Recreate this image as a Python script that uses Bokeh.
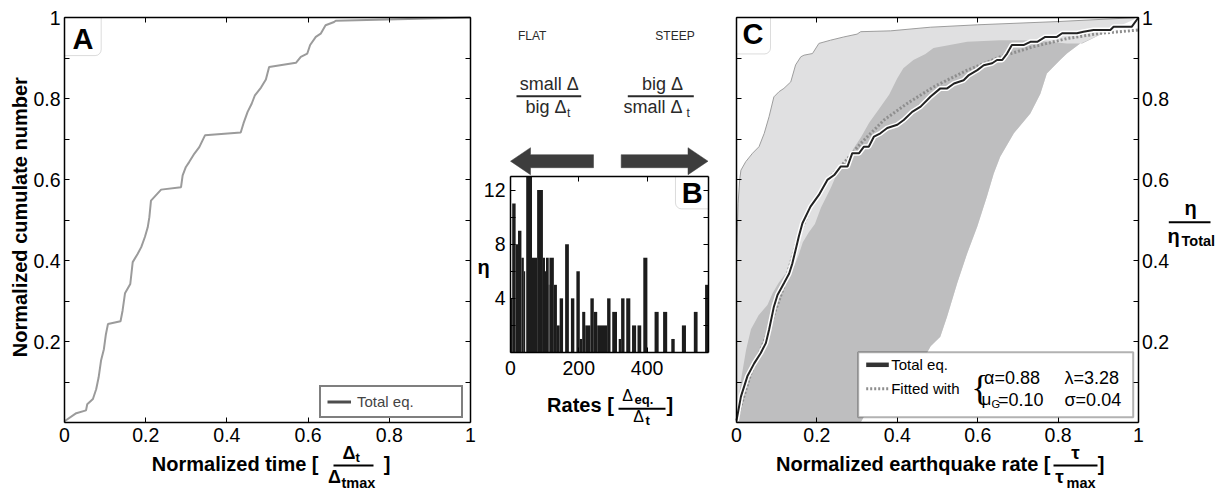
import numpy as np
from bokeh.plotting import figure
from bokeh.models import (Range1d, LinearAxis, FixedTicker, Label, Arrow,
                          BoxAnnotation, Legend, LegendItem, ColumnDataSource)
from bokeh.embed import file_html
from bokeh.resources import INLINE

FONT = "Liberation Sans"
TICK_SIZE = "19.5px"

# ---------------- Panel A data: normalized cumulative number vs normalized time
time_norm = [0.0, 0.029, 0.053, 0.056, 0.070, 0.078, 0.084, 0.090, 0.097, 0.102,
             0.107, 0.138, 0.143, 0.149, 0.162, 0.168, 0.180, 0.189, 0.198, 0.205,
             0.209, 0.213, 0.238, 0.287, 0.291, 0.299, 0.307, 0.320, 0.332, 0.346,
             0.434, 0.441, 0.451, 0.461, 0.469, 0.484, 0.496, 0.504, 0.570, 0.582,
             0.598, 0.605, 0.619, 0.631, 0.643, 0.664, 0.668, 1.0]
cum_norm = [0.003, 0.023, 0.030, 0.045, 0.058, 0.082, 0.111, 0.153, 0.181, 0.218,
            0.243, 0.250, 0.276, 0.319, 0.342, 0.396, 0.416, 0.433, 0.458, 0.482,
            0.507, 0.548, 0.575, 0.581, 0.610, 0.631, 0.643, 0.664, 0.680, 0.709,
            0.716, 0.739, 0.767, 0.787, 0.808, 0.827, 0.847, 0.878, 0.888, 0.903,
            0.911, 0.932, 0.952, 0.960, 0.981, 0.989, 0.992, 1.0]

# ---------------- Panel B data: histogram of rates
rate_edges = [0, 5, 15, 22, 32, 39, 43, 46, 63, 78, 95, 101, 104, 112, 114, 127, 136,
              144, 154, 160, 171, 177, 187, 193, 203, 210, 219, 234, 244, 254, 283,
              293, 298, 312, 317, 324, 334, 339, 351, 356, 368, 372, 383, 389, 401,
              422, 434, 447, 459, 471, 481, 502, 514, 537, 548, 570, 580]
rate_counts = [4, 11, 8, 9, 7, 6, 0, 13, 7, 12, 7, 6, 7, 5, 7, 5, 2, 4, 0, 8,
               0, 4, 0, 6, 1, 3, 2, 4, 3, 2, 4, 0, 3, 0, 1, 4, 0, 4, 0, 2,
               0, 2, 0, 7, 0, 3, 0, 3, 0, 1, 0, 2, 0, 3, 0, 5]

# ---------------- Panel C data
total_rate = [0.0, 0.011, 0.027, 0.044, 0.060, 0.073, 0.081, 0.093, 0.102, 0.118,
              0.131, 0.139, 0.147, 0.155, 0.164, 0.184, 0.205, 0.226, 0.243, 0.259,
              0.276, 0.288, 0.305, 0.317, 0.329, 0.342, 0.358, 0.375, 0.400, 0.416,
              0.437, 0.458, 0.483, 0.507, 0.524, 0.541, 0.565, 0.578, 0.599, 0.615,
              0.636, 0.648, 0.661, 0.673, 0.685, 0.714, 0.731, 0.748, 0.768, 0.797,
              0.810, 0.847, 0.863, 0.888, 0.930, 0.938, 0.983, 1.0]
total_eta = [0.005, 0.064, 0.114, 0.146, 0.171, 0.196, 0.229, 0.286, 0.315, 0.344,
             0.368, 0.393, 0.426, 0.459, 0.492, 0.533, 0.562, 0.599, 0.611, 0.632,
             0.632, 0.665, 0.665, 0.681, 0.681, 0.706, 0.714, 0.727, 0.735, 0.747,
             0.767, 0.780, 0.805, 0.825, 0.825, 0.837, 0.845, 0.858, 0.870, 0.882,
             0.887, 0.895, 0.895, 0.911, 0.932, 0.932, 0.940, 0.940, 0.952, 0.952,
             0.961, 0.961, 0.965, 0.969, 0.969, 0.977, 0.977, 1.0]
fit_rate = [0.0, 0.036, 0.077, 0.118, 0.151, 0.185, 0.226, 0.259, 0.309, 0.367,
            0.425, 0.491, 0.574, 0.656, 0.739, 0.822, 0.905, 1.0]
fit_eta = [0.005, 0.122, 0.220, 0.336, 0.451, 0.533, 0.599, 0.632, 0.689, 0.747,
           0.788, 0.829, 0.870, 0.903, 0.928, 0.948, 0.961, 0.969]
env_upper_x = [0.0, 0.004, 0.008, 0.011, 0.023, 0.040, 0.056, 0.069, 0.081, 0.093,
               0.106, 0.118, 0.135, 0.147, 0.160, 0.168, 0.189, 0.205, 0.234, 0.267,
               0.300, 0.309, 0.383, 0.449, 0.482, 0.600, 0.800, 1.0]
env_upper_y = [0.40, 0.54, 0.60, 0.623, 0.644, 0.665, 0.681, 0.714, 0.755, 0.804,
               0.817, 0.825, 0.841, 0.883, 0.903, 0.907, 0.911, 0.936, 0.944, 0.952,
               0.959, 0.965, 0.967, 0.973, 0.976, 0.982, 0.990, 1.0]
band_top_x = [0.0, 0.003, 0.012, 0.024, 0.036, 0.055, 0.077, 0.090, 0.105, 0.120,
              0.143, 0.155, 0.165, 0.180, 0.195, 0.210, 0.235, 0.250, 0.270, 0.290,
              0.310, 0.330, 0.355, 0.380, 0.400, 0.415, 0.440, 0.470, 0.490, 0.574,
              0.656, 0.739, 0.822, 0.860, 0.920, 1.0]
band_top_y = [0.0, 0.04, 0.11, 0.18, 0.23, 0.265, 0.29, 0.32, 0.345, 0.365,
              0.385, 0.415, 0.445, 0.47, 0.49, 0.53, 0.58, 0.615, 0.64, 0.675,
              0.705, 0.74, 0.775, 0.81, 0.85, 0.875, 0.895, 0.91, 0.925, 0.94,
              0.944, 0.944, 0.936, 0.936, 0.965, 1.0]
band_right_x = [0.309, 0.317, 0.360, 0.408, 0.450, 0.483, 0.507, 0.524, 0.549, 0.574,
                0.599, 0.623, 0.640, 0.656, 0.690, 0.731, 0.756, 0.772, 0.805, 0.822,
                0.855, 0.930, 1.0]
band_right_y = [0.0, 0.015, 0.040, 0.072, 0.130, 0.188, 0.212, 0.262, 0.344, 0.418,
                0.484, 0.558, 0.615, 0.656, 0.714, 0.763, 0.812, 0.862, 0.895, 0.911,
                0.936, 0.970, 1.0]

# ---------------- ticks
unit_ticks = [0, 0.2, 0.4, 0.6, 0.8, 1]
unit_minor = [0.1, 0.3, 0.5, 0.7, 0.9]
unit_y_ticks = [0.2, 0.4, 0.6, 0.8, 1]
unit_labels = {0: "0", 0.2: "0.2", 0.4: "0.4", 0.6: "0.6", 0.8: "0.8", 1: "1"}
hist_x_ticks = [0, 200, 400]
hist_y_ticks = [4, 8, 12]
hist_y_minor = [2, 6, 10]

# ---------------- one canvas; default ranges are page pixels, panels use extra ranges
W, H = 1226, 492


def range_x(px0, px1, v0, v1):
    s = (px1 - px0) / (v1 - v0)
    return Range1d(v0 - px0 / s, v0 + (W - px0) / s)


def range_y(py0, py1, v0, v1):
    s = (py0 - py1) / (v1 - v0)
    return Range1d(v0 - (H - py0) / s, v1 + py1 / s)


p = figure(width=W, height=H, frame_width=W, frame_height=H,
           x_range=Range1d(0, W), y_range=Range1d(H, 0),
           x_axis_location=None, y_axis_location=None,
           min_border=0, min_border_left=0, min_border_right=0,
           min_border_top=0, min_border_bottom=0,
           toolbar_location=None, output_backend="svg",
           background_fill_color="white", border_fill_color="white",
           outline_line_color=None)
p.grid.visible = False
p.extra_x_ranges = {"A": range_x(64, 470, 0, 1), "B": range_x(510, 708, 0, 580),
                    "C": range_x(736, 1138, 0, 1)}
p.extra_y_ranges = {"AC": range_y(422, 17, 0, 1), "B": range_y(352, 176, 0, 13)}


def make_axis(xr, yr, ticks, minor, loc, bounds):
    ax = LinearAxis(x_range_name=xr, y_range_name=yr, fixed_location=loc, bounds=bounds)
    ax.ticker = FixedTicker(ticks=ticks, minor_ticks=minor or [])
    ax.axis_line_color = "black"
    ax.axis_line_width = 1.5
    ax.major_tick_in = 5
    ax.major_tick_out = 0
    ax.minor_tick_in = 5
    ax.minor_tick_out = 0
    ax.major_tick_line_color = "black"
    ax.minor_tick_line_color = "black"
    ax.major_label_overrides = {t: "" for t in ticks}
    ax.major_label_text_font_size = "0px"
    ax.major_label_standoff = 0
    ax.axis_label = None
    return ax


def panel_frame(xr, yr, xt, yt, xminor, yminor, xb, yb):
    p.add_layout(make_axis(xr, yr, xt, xminor, yb[0], xb), "below")
    p.add_layout(make_axis(xr, yr, xt, xminor, yb[1], xb), "above")
    p.add_layout(make_axis(xr, yr, yt, yminor, xb[0], yb), "left")
    p.add_layout(make_axis(xr, yr, yt, yminor, xb[1], yb), "right")


def lab(text, x, y, size, bold=False, align="center", baseline="middle",
        color="black", angle=0.0, xr="default", yr="default", xo=0, yo=0,
        font=FONT):
    p.add_layout(Label(x=x, y=y, x_range_name=xr, y_range_name=yr, text=text,
                       text_font=font, text_font_size=f"{size}px",
                       text_font_style="bold" if bold else "normal",
                       text_align=align, text_baseline=baseline,
                       text_color=color, angle=angle, x_offset=xo, y_offset=yo))


def tick_labels(xr, yr, xticks, yticks, y_at, x_at, y_side="left", xyo=-5, yxo=-4):
    for t in xticks:
        lab(unit_labels.get(t, str(t)) if xr != "B" else str(t), t, y_at, 19.5,
            baseline="top", xr=xr, yr=yr, yo=xyo)
    for t in yticks:
        lab(unit_labels.get(t, str(t)) if yr != "B" else str(t), x_at, t, 19.5,
            align="right" if y_side == "left" else "left", xr=xr, yr=yr, xo=yxo)


def seg(x0, x1, y, w=2.0, color="black", dash="solid"):
    p.add_layout(Arrow(x_start=x0, y_start=y, x_end=x1, y_end=y, start=None, end=None,
                       line_width=w, line_color=color, line_dash=dash))


def letter_box(xr, yr, left, right, bottom, top, corner):
    radius = dict(top_left=0, top_right=0, bottom_right=0, bottom_left=0)
    radius[corner] = 6
    p.add_layout(BoxAnnotation(left=left, right=right, bottom=bottom, top=top,
                               x_range_name=xr, y_range_name=yr,
                               fill_color="white", fill_alpha=1, line_color="#8a8a8a",
                               line_width=1, level="underlay", border_radius=radius))


# =============== Panel A ===============
panel_frame("A", "AC", unit_ticks, unit_y_ticks, None, unit_minor, (0, 1), (0, 1))
tick_labels("A", "AC", unit_ticks, unit_y_ticks, 0, 0, "left", -5, -4)
letter_box("A", "AC", 0, 0.0904, 0.906, 1.0, "bottom_right")
lab("A", 82.5, 38.5, 29, bold=True)

p.line(time_norm, cum_norm, x_range_name="A", y_range_name="AC",
       line_color="#9b9b9b", line_width=2)
dummyA = p.line([np.nan], [np.nan], x_range_name="A", y_range_name="AC",
                line_color="#4d4d4d", line_width=3)
legA = Legend(items=[LegendItem(label="Total eq.", renderers=[dummyA])],
              location=(319, H - 418), padding=6, glyph_width=24,
              glyph_height=17, label_height=17, label_width=98, label_standoff=6,
              label_text_font=FONT, label_text_font_size="15px",
              border_line_color="black", border_line_width=2,
              background_fill_color="white", background_fill_alpha=1)
p.add_layout(legA)

lab("Normalized cumulate number", 19.3, 216.7, 20, bold=True, angle=np.pi / 2)
lab("Normalized time [", 318, 463.3, 20, bold=True, align="right")
lab("Δ", 348.5, 452, 18, bold=True)
lab("t", 355, 457, 13, bold=True, align="left")
seg(333, 373, 465)
lab("Δ", 334, 476, 18, bold=True)
lab("tmax", 341, 482, 14.5, bold=True, align="left")
lab("]", 386.7, 463.3, 20, bold=True)

# =============== Panel B ===============
panel_frame("B", "B", hist_x_ticks, hist_y_ticks, None, hist_y_minor, (0, 580), (0, 13))
tick_labels("B", "B", hist_x_ticks, hist_y_ticks, 0, 0, "left", -8, -5)
letter_box("B", "B", 483.3, 580, 10.61, 13, "bottom_left")
lab("B", 691.7, 192.5, 29, bold=True)

hist_src = ColumnDataSource(dict(left=rate_edges[:-1], right=rate_edges[1:],
                                 top=rate_counts, bottom=[0] * len(rate_counts)))
p.quad(left="left", right="right", top="top", bottom="bottom", source=hist_src,
       x_range_name="B", y_range_name="B", fill_color="#1c1c1c", line_color=None)

ARROW_C = "#3d3d3d"
left_arrow_x = [510, 530, 530, 593, 593, 530, 530]
left_arrow_y = [160.7, 147.2, 154.2, 154.2, 167.2, 167.2, 174.2]
right_arrow_x = [707.5, 687.5, 687.5, 620.7, 620.7, 687.5, 687.5]
right_arrow_y = [160.7, 147.2, 154.2, 154.2, 167.2, 167.2, 174.2]
p.patch(left_arrow_x, left_arrow_y, fill_color=ARROW_C, line_color=ARROW_C, line_width=0.5)
p.patch(right_arrow_x, right_arrow_y, fill_color=ARROW_C, line_color=ARROW_C, line_width=0.5)

TXT = "#2a2a2a"
lab("FLAT", 531.7, 35, 12, color=TXT)
lab("STEEP", 674.5, 35, 12, color=TXT)
lab("small Δ", 548.7, 83.3, 18, color=TXT)
seg(516, 580.7, 95.7, color=TXT)
lab("big Δ", 566, 106.7, 18, align="right", color=TXT)
lab("t", 566.5, 112, 12, align="left", color=TXT)
lab("big Δ", 662, 83.3, 18, color=TXT)
seg(627.3, 693.3, 95.7, color=TXT)
lab("small  Δ", 687, 106.7, 18, align="right", color=TXT)
lab("t", 686, 112, 12, align="left", color=TXT)

lab("η", 483, 266, 20, bold=True)
lab("Rates [", 613.3, 404, 20, bold=True, align="right")
lab("Δ", 627, 395, 16)
lab("eq.", 634, 399, 13, bold=True, align="left")
seg(618, 665, 408.3)
lab("Δ", 638, 415.5, 16)
lab("t", 645, 420, 13, bold=True, align="left")
lab("]", 669.3, 404, 20, bold=True)

# =============== Panel C ===============
light_x = env_upper_x + band_right_x[::-1] + [0.0]
light_y = env_upper_y + band_right_y[::-1] + [0.0]
dark_x = band_top_x + band_right_x[::-1]
dark_y = band_top_y + band_right_y[::-1]
p.patch(light_x, light_y, x_range_name="C", y_range_name="AC",
        fill_color="#e0e0e1", line_color=None)
p.patch(dark_x, dark_y, x_range_name="C", y_range_name="AC",
        fill_color="#bebebf", line_color=None)
p.line(env_upper_x, env_upper_y, x_range_name="C", y_range_name="AC",
       line_color="#9d9d9d", line_width=1)
p.line(fit_rate, fit_eta, x_range_name="C", y_range_name="AC",
       line_color="#8e8e8e", line_width=3, line_dash="2 2")
p.line(total_rate, total_eta, x_range_name="C", y_range_name="AC",
       line_color="white", line_width=5)
p.line(total_rate, total_eta, x_range_name="C", y_range_name="AC",
       line_color="#222222", line_width=2)

panel_frame("C", "AC", unit_ticks, unit_y_ticks, None, unit_minor, (0, 1), (0, 1))
tick_labels("C", "AC", unit_ticks, [], 0, 1, "right", -5, 3.5)
for t in unit_y_ticks:
    lab(unit_labels[t], 1, t, 19.5, align="left", xr="C", yr="AC", xo=3.5)
letter_box("C", "AC", 0, 0.0846, 0.910, 1.0, "bottom_right")
lab("C", 752.5, 33.9, 29, bold=True)

# legend box of panel C
p.add_layout(BoxAnnotation(left=857.7, right=1132.7, top=351.7, bottom=416.7,
                           fill_color="white", fill_alpha=1, line_color="black",
                           line_width=2))
seg(865.7, 888.3, 364.3, w=4.5, color="#333333")
lab("Total eq.", 890.7, 364.3, 15, align="left")
seg(865.7, 888.3, 388.3, w=3, color="#8e8e8e", dash="2 2")
lab("Fitted with", 890.7, 388.3, 15, align="left")
lab("{", 979.5, 387, 36, font="Liberation Serif")
lab("α=0.88", 983.5, 377.7, 18, align="left")
lab("λ=3.28", 1064, 377.7, 18, align="left")
lab("μ", 981, 399, 17, align="left")
lab("G", 991, 403.5, 11, align="left")
lab("=0.10", 997.5, 399, 18, align="left")
lab("σ=0.04", 1064, 399, 18, align="left")

lab("Normalized earthquake rate [", 1050, 463.3, 20, bold=True, align="right")
lab("τ", 1075, 452, 19, bold=True)
seg(1053, 1097, 465)
lab("τ", 1059, 476, 19, bold=True)
lab("max", 1066, 482, 14.5, bold=True, align="left")
lab("]", 1100.5, 463.3, 20, bold=True)

lab("η", 1190, 207.5, 20, bold=True)
seg(1168.3, 1210, 221.7)
lab("η", 1173, 235, 20, bold=True)
lab("Total", 1181, 240, 14.5, bold=True, align="left")

open("out.html", "w").write(file_html(p, INLINE))
